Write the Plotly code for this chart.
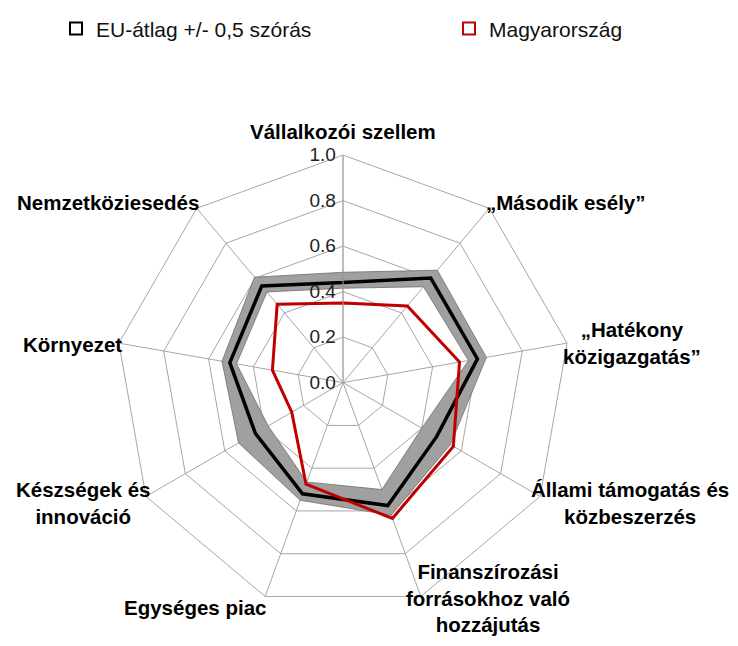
import plotly.graph_objects as go

# categories clockwise from the top
categories = [
    'Vállalkozói szellem',
    '„Második esély”',
    '„Hatékony<br>közigazgatás”',
    'Állami támogatás és<br>közbeszerzés',
    'Finanszírozási<br>forrásokhoz való<br>hozzájutás',
    'Egységes piac',
    'Készségek és<br>innováció',
    'Környezet',
    'Nemzetköziesedés',
]
eu_mean = [0.44, 0.60, 0.60, 0.475, 0.575, 0.52, 0.445, 0.505, 0.555]
eu_upper = [0.485, 0.645, 0.64, 0.545, 0.62, 0.55, 0.53, 0.54, 0.605]
eu_lower = [0.415, 0.55, 0.56, 0.40, 0.50, 0.465, 0.38, 0.475, 0.52]
hungary = [0.35, 0.44, 0.52, 0.56, 0.635, 0.475, 0.26, 0.315, 0.45]
radial_ticks = [0.0, 0.2, 0.4, 0.6, 0.8, 1.0]

# page is 738x646, the body keeps its default 8px margin
OFF = 8
W, H = 738 - 2 * OFF, 646 - 2 * OFF
GRID = '#a6a6a6'
FONT = 'Liberation Sans, Arial, sans-serif'

# polar centre / radius in page pixels
cx, cy, R = 343 - OFF, 381 - OFF, 229


def px(x):
    return (x - OFF) / W


def py(y):
    return 1 - (y - OFF) / H


def closed(vals):
    return list(vals) + [vals[0]]


fig = go.Figure()

# +/- 0.5 std band: outer ring forward, inner ring backwards -> hole in the middle
band_r = closed(eu_upper) + closed(eu_lower[::-1][-1:] + eu_lower[::-1][:-1])
band_theta = closed(categories) + closed(categories[::-1][-1:] + categories[::-1][:-1])
fig.add_trace(go.Scatterpolar(
    r=band_r, theta=band_theta, mode='lines', fill='toself',
    fillcolor='#a0a0a0', line=dict(color='#6e6e6e', width=0.8),
    showlegend=False, hoverinfo='skip'))

fig.add_trace(go.Scatterpolar(
    r=closed(eu_mean), theta=closed(categories), mode='lines',
    line=dict(color='black', width=3.5), showlegend=False))

fig.add_trace(go.Scatterpolar(
    r=closed(hungary), theta=closed(categories), mode='lines',
    line=dict(color='#c00000', width=3), showlegend=False))

# legend-only entries with hollow square symbols, one legend each
for name, col, lg in [('EU-átlag +/- 0,5 szórás', 'black', 'legend'),
                      ('Magyarország', '#c00000', 'legend2')]:
    fig.add_trace(go.Scatterpolar(
        r=[None], theta=[categories[0]], mode='markers', name=name, legend=lg,
        marker=dict(symbol='square-open', size=10, color=col, line=dict(width=3, color=col))))

# category labels placed around the chart (page pixels)
label_pos = [
    (343, 128),
    (566, 200),
    (632, 341),
    (630, 502),
    (488, 598),
    (195, 607),
    (83, 502),
    (72, 343),
    (108, 200),
]
for text, (x, y) in zip(categories, label_pos):
    fig.add_annotation(
        x=px(x), y=py(y), xref='paper', yref='paper', text='<b>%s</b>' % text,
        showarrow=False, align='center', xanchor='center', yanchor='middle',
        font=dict(family=FONT, size=20.5, color='black'))

legend_style = dict(orientation='h', yanchor='middle', y=py(25), xanchor='left',
                    font=dict(family=FONT, size=21, color='#111'), itemsizing='constant',
                    bgcolor='rgba(0,0,0,0)')

fig.update_layout(
    width=W, height=H,
    margin=dict(l=0, r=0, t=0, b=0),
    paper_bgcolor='white',
    font=dict(family=FONT, color='black'),
    showlegend=True,
    legend=dict(x=px(56), **legend_style),
    legend2=dict(x=px(449), **legend_style),
    polar=dict(
        domain=dict(x=[(cx - R) / W, (cx + R) / W], y=[1 - (cy + R) / H, 1 - (cy - R) / H]),
        gridshape='linear', bgcolor='white',
        radialaxis=dict(
            range=[0, 1], tickvals=radial_ticks, tickformat='.1f', angle=90, tickangle=90,
            side='counterclockwise', showline=True, linecolor=GRID, linewidth=1,
            gridcolor=GRID, gridwidth=1, ticks='',
            tickfont=dict(family=FONT, size=19, color='#222')),
        angularaxis=dict(
            direction='clockwise', rotation=90, showticklabels=False, ticks='',
            showline=True, linecolor=GRID, linewidth=1, gridcolor=GRID, gridwidth=1),
    ),
)

fig.write_html("out.html")
